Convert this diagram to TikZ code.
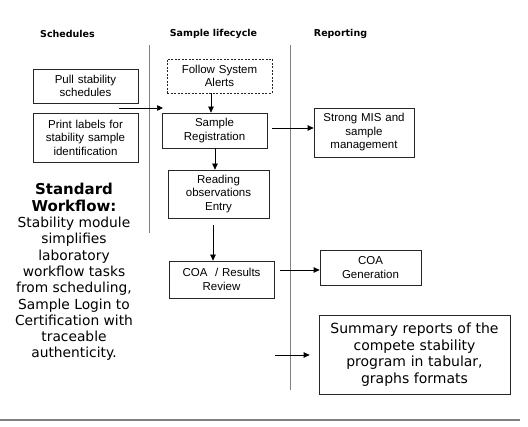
\documentclass[tikz,border=0pt]{standalone}
\usepackage{fontspec}
\setmainfont{Liberation Sans}
\newfontfamily\verd{DejaVu Sans}
\usetikzlibrary{arrows.meta}
\usetikzlibrary{shapes}
\tikzstyle{stepbox} = [rectangle, draw=black!85, line width=0.7pt, text centered, inner sep=0pt, font=\fontsize{11.5}{13.5}\selectfont]
\tikzstyle{alertbox} = [stepbox, dash pattern=on 2pt off 1.5pt]
\tikzstyle{reportbox} = [stepbox, font=\verd\fontsize{14}{16.5}\selectfont]
\tikzstyle{heading} = [font=\verd\bfseries\fontsize{9.5}{11}\selectfont]
\tikzstyle{lane} = [draw=gray, line width=0.8pt]
\tikzstyle{arrow} = [line width=0.7pt,-{Triangle[length=6pt,width=5.5pt]}]

\begin{document}
\begin{tikzpicture}[x=1pt, y=-1pt]
\useasboundingbox (0,0) rectangle (528,427);

\node [heading] (hsched) at (67.5,34) {Schedules};
\node [heading] (hlife) at (213.5,34) {Sample lifecycle};
\node [heading] (hrep) at (340.5,34) {Reporting};

\draw [lane] (149,45) -- (149,233);
\draw [lane] (290,45) -- (290,390);

\node [stepbox, minimum width=105pt, minimum height=34pt, text width=100pt] (pull) at (85.5,86) {Pull stability\\ schedules};
\node [stepbox, minimum width=105pt, minimum height=49pt, text width=100pt] (print) at (85.5,137.5) {Print labels for\\ stability sample\\ identification};

\node [alertbox, minimum width=105pt, minimum height=34pt, text width=100pt] (follow) at (219.5,76) {Follow System\\ Alerts};
\node [stepbox, minimum width=105pt, minimum height=35pt, text width=100pt] (reg) at (214.5,130.5) {Sample\\ Registration};
\node [stepbox, minimum width=101pt, minimum height=48pt, text width=96pt] (read) at (218.5,194) {Reading\\ observations\\ Entry};
\node [stepbox, minimum width=105pt, minimum height=37pt, text width=100pt] (coa) at (221.5,279.5) {COA~~/ Results\\ Review};

\node [stepbox, minimum width=100pt, minimum height=49pt, text width=96pt] (mis) at (364,132.5) {Strong MIS and\\ sample\\ management};
\node [stepbox, minimum width=101pt, minimum height=35pt, text width=96pt] (coagen) at (370.5,267.5) {COA\\ Generation};
\node [reportbox, minimum width=191pt, minimum height=79pt, text width=186pt] (summary) at (414.5,354.5) {Summary reports of the\\ compete stability\\ program in tabular,\\ graphs formats};

\node [anchor=north, align=center, font=\verd\fontsize{13.8}{16.3}\selectfont] (workflow) at (74,180) {{\bfseries\fontsize{15}{16.3}\selectfont Standard}\\ {\bfseries\fontsize{15}{16.3}\selectfont Workflow:}\\ Stability module\\ simplifies\\ laboratory\\ workflow tasks\\ from scheduling,\\ Sample Login to\\ Certification with\\ traceable\\ authenticity.};

\coordinate (pullout) at (119,108);
\coordinate (regin) at (163,108);
\coordinate (sumin) at (275,355);

\draw [arrow] (pullout) -- (regin);
\draw [arrow] ([xshift=-8.5pt]follow.south) -- ([xshift=-3.5pt]reg.north);
\draw [arrow] ([xshift=0.5pt]reg.south) -- ([xshift=-3.5pt]read.north);
\draw [arrow, shorten <=7pt] ([xshift=-5.5pt]read.south) -- ([xshift=-8.5pt]coa.north);
\draw [arrow, shorten <=5pt] ([yshift=2.5pt]reg.east) -- ([yshift=4.5pt]mis.west);
\draw [arrow, shorten <=6pt] ([yshift=9.5pt]coa.east) -- ([yshift=-2.5pt]coagen.west);
\draw [arrow, shorten >=9pt] (sumin) -- (sumin -| summary.west);

\draw [gray, line width=1.5pt] (0,420) -- (520,420);

\end{tikzpicture}
\end{document}
